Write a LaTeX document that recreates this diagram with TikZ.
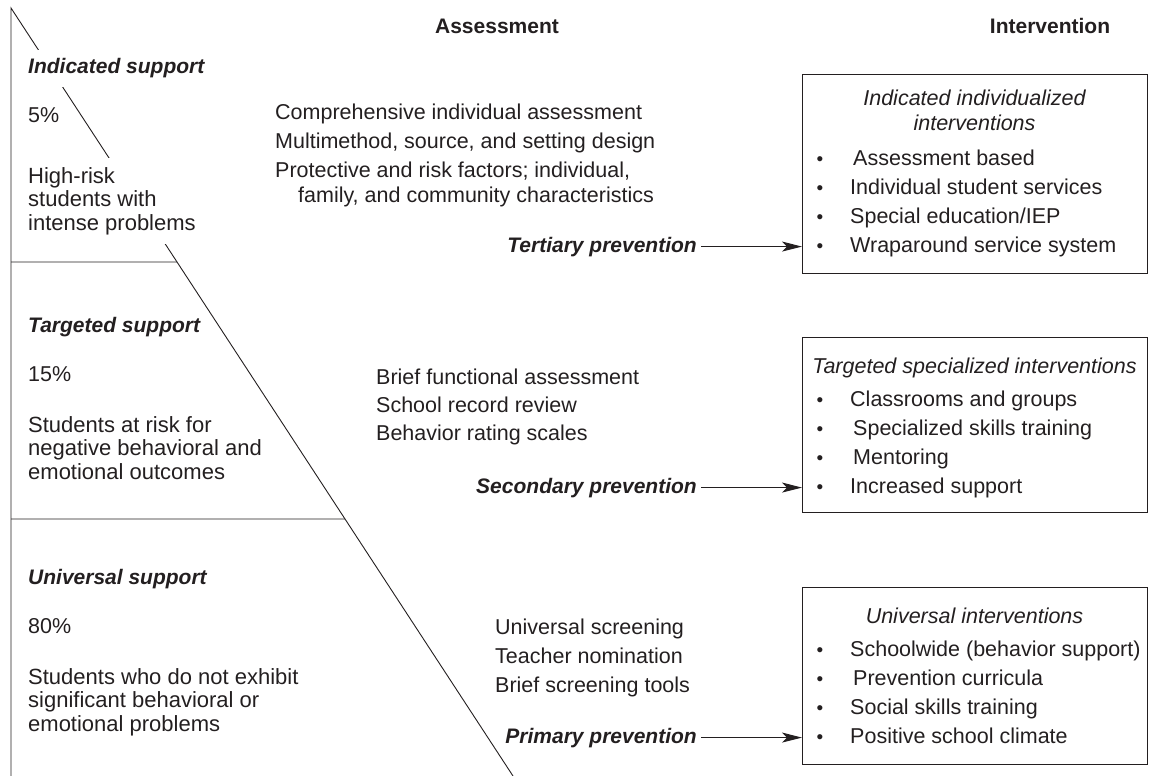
\documentclass[tikz,border=0pt]{standalone}
\usepackage{fontspec}
\setmainfont{Liberation Sans}
\usetikzlibrary{arrows.meta,calc}

\definecolor{ink}{HTML}{231F20}

\tikzset{
  txt/.style={anchor=base west, inner sep=0pt, text=ink},
  par/.style={anchor=north west, inner sep=0pt, align=left, text=ink, font=\fontsize{22}{23.5}\selectfont},
  head/.style={anchor=base, inner sep=0pt, text=ink, font=\fontsize{21}{24}\selectfont\bfseries},
  tierlabel/.style={txt, font=\fontsize{21}{24}\selectfont\bfseries\itshape},
  mask/.style={fill=white, inner xsep=0pt, inner ysep=9pt},
  prev/.style={anchor=base east, inner sep=0pt, text=ink, font=\fontsize{21}{24}\selectfont\bfseries\itshape},
  ibox/.style={draw=ink, line width=1.2pt, anchor=north west, inner sep=0pt},
  boxtitle/.style={inner sep=0pt, text=ink, align=center, font=\fontsize{21.5}{25}\selectfont\itshape},
  bul/.style={anchor=base, inner sep=0pt, text=ink, font=\fontsize{19}{19}\selectfont},
  arr/.style={draw=ink, line width=1pt, shorten <=4pt, -{Stealth[length=20pt,width=10pt,inset=5pt]}},
  edge/.style={draw=ink, line width=0.9pt}
}

\begin{document}
\begin{tikzpicture}[x=1pt,y=-1pt,font=\fontsize{21.5}{23.5}\selectfont]
\useasboundingbox (0,0) rectangle (1152,776);

%triangle of support levels
\coordinate (apex) at (11,8);
\coordinate (base) at (513,776);
\coordinate (foot) at (11,776);
\coordinate (cut1) at ($(apex)!{254/768}!(base)$);
\coordinate (cut2) at ($(apex)!{511/768}!(base)$);
\draw[edge] (foot) -- (apex) -- (base);
\draw[edge] (11,262) -- (cut1);
\draw[edge] (11,519) -- (cut2);

%headers
\node[head] (hassess) at (497,34) {Assessment};
\node[head] (hinterv) at (1050,34) {Intervention};

%indicated tier
\node[tierlabel, mask] (indlab) at (28,74) {Indicated support};
\node[txt] (indpct) at (28,122) {5\%};
\node[par, mask] (inddesc) at (28,158) {High-risk\\students with\\intense problems};

%targeted tier
\node[tierlabel] (tarlab) at (28,332) {Targeted support};
\node[txt] (tarpct) at (28,381) {15\%};
\node[par] (tardesc) at (28,416) {Students at risk for\\negative behavioral and\\emotional outcomes};

%universal tier
\node[tierlabel] (unilab) at (28,584) {Universal support};
\node[txt] (unipct) at (28,633) {80\%};
\node[par] (unidesc) at (28,668) {Students who do not exhibit\\significant behavioral or\\emotional problems};

%assessment
\foreach \line [count=\i from 0] in {Comprehensive individual assessment, {Multimethod, source, and setting design}, {Protective and risk factors; individual,}}
  \node[txt] (asA-\i) at (275,{120+28.5*\i}) {\line};
\node[txt] (asA-3) at (298,202) {family, and community characteristics};

\foreach \line [count=\i from 0] in {Brief functional assessment, School record review, Behavior rating scales}
  \node[txt] (asB-\i) at (376,{384+28*\i}) {\line};

\foreach \line [count=\i from 0] in {Universal screening, Teacher nomination, Brief screening tools}
  \node[txt] (asC-\i) at (495,{634+29*\i}) {\line};

%intervention boxes
\node[ibox, minimum width=345pt, minimum height=199pt] (boxA) at (802,74) {};
\node[ibox, minimum width=345pt, minimum height=175pt] (boxB) at (802,337) {};
\node[ibox, minimum width=345pt, minimum height=177pt] (boxC) at (802,587) {};

\node[boxtitle, anchor=north] (tA) at (974.5,90) {Indicated individualized\\interventions};
\node[boxtitle, anchor=base] (tB) at (974.5,373) {Targeted specialized interventions};
\node[boxtitle, anchor=base] (tC) at (974.5,623) {Universal interventions};

\foreach \item [count=\i from 0] in {\hspace*{3pt}Assessment based, Individual student services, Special education/IEP, Wraparound service system}
{
  \node[bul] at (820,{165+29*\i}) {\textbullet};
  \node[txt] (iA-\i) at (850,{165+29*\i}) {\item};
}
\foreach \item [count=\i from 0] in {Classrooms and groups, \hspace*{3pt}Specialized skills training, \hspace*{3pt}Mentoring, Increased support}
{
  \node[bul] at (820,{406+29*\i}) {\textbullet};
  \node[txt] (iB-\i) at (850,{406+29*\i}) {\item};
}
\foreach \item [count=\i from 0] in {Schoolwide (behavior support), \hspace*{3pt}Prevention curricula, Social skills training, Positive school climate}
{
  \node[bul] at (820,{656+29*\i}) {\textbullet};
  \node[txt] (iC-\i) at (850,{656+29*\i}) {\item};
}

%prevention arrows
\node[prev] (tert) at (697,252) {Tertiary prevention};
\node[prev] (seco) at (697,493) {Secondary prevention};
\node[prev] (prim) at (697,743) {Primary prevention};
\draw[arr] (tert.east) -- (tert.east -| boxA.west);
\draw[arr] (seco.east) -- (seco.east -| boxB.west);
\draw[arr] (prim.east) -- (prim.east -| boxC.west);
\end{tikzpicture}
\end{document}
